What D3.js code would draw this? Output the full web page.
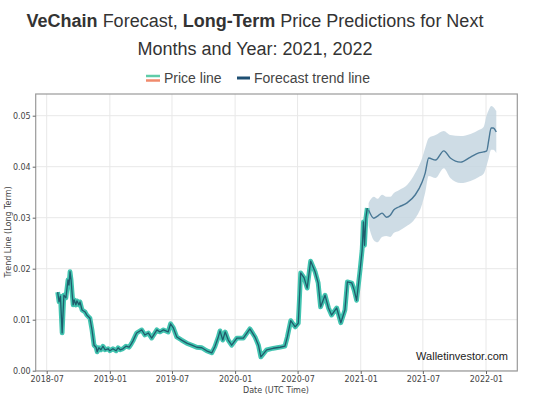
<!DOCTYPE html>
<html><head><meta charset="utf-8">
<script src="https://cdn.jsdelivr.net/npm/d3@7"></script>
<style>
html,body{margin:0;padding:0;background:#fff;}
svg{display:block;font-family:"Liberation Sans",Arial,Helvetica,sans-serif;}
</style></head>
<body><svg id="c" width="536" height="398"></svg>
<script>
const priceDates = ["2018-08-02","2018-08-06","2018-08-10","2018-08-15","2018-08-20","2018-08-26","2018-09-01","2018-09-04","2018-09-07","2018-09-10","2018-09-13","2018-09-16","2018-09-19","2018-09-24","2018-09-27","2018-10-03","2018-10-06","2018-10-12","2018-10-21","2018-10-26","2018-11-04","2018-11-10","2018-11-16","2018-11-22","2018-11-25","2018-11-30","2018-12-06","2018-12-12","2018-12-18","2018-12-27","2019-01-01","2019-01-10","2019-01-19","2019-01-25","2019-01-31","2019-02-08","2019-02-17","2019-02-26","2019-03-04","2019-03-09","2019-03-20","2019-04-04","2019-04-13","2019-04-23","2019-05-03","2019-05-18","2019-05-27","2019-06-06","2019-06-20","2019-06-27","2019-07-05","2019-07-15","2019-07-29","2019-08-13","2019-08-28","2019-09-11","2019-09-26","2019-10-10","2019-10-25","2019-11-03","2019-11-13","2019-11-18","2019-11-26","2019-12-03","2019-12-12","2019-12-22","2020-01-06","2020-01-25","2020-02-13","2020-02-28","2020-03-09","2020-03-16","2020-04-02","2020-04-21","2020-05-11","2020-05-25","2020-06-01","2020-06-11","2020-06-24","2020-07-03","2020-07-10","2020-07-20","2020-07-29","2020-08-08","2020-08-21","2020-08-30","2020-09-06","2020-09-19","2020-09-29","2020-10-08","2020-10-23","2020-11-04","2020-11-16","2020-11-23","2020-12-06","2020-12-13","2020-12-20","2020-12-30","2021-01-05","2021-01-09","2021-01-12","2021-01-16","2021-01-20"];
const priceValues = [0.0154,0.0135,0.0146,0.0074,0.0148,0.0143,0.0178,0.0168,0.0194,0.0178,0.0152,0.0129,0.0139,0.0129,0.0137,0.0129,0.0135,0.0119,0.0115,0.0109,0.0103,0.0080,0.0050,0.0046,0.0037,0.0045,0.0041,0.0048,0.0041,0.0043,0.0039,0.0043,0.0039,0.0045,0.0041,0.0043,0.0048,0.0046,0.0052,0.0058,0.0074,0.0080,0.0070,0.0074,0.0064,0.0080,0.0076,0.0080,0.0076,0.0092,0.0084,0.0066,0.0060,0.0054,0.0050,0.0046,0.0045,0.0039,0.0035,0.0047,0.0066,0.0078,0.0060,0.0076,0.0060,0.0050,0.0064,0.0064,0.0082,0.0066,0.0050,0.0027,0.0041,0.0044,0.0046,0.0048,0.0066,0.0098,0.0086,0.0093,0.0192,0.0182,0.0162,0.0215,0.0194,0.0172,0.0125,0.0148,0.0123,0.0109,0.0123,0.0094,0.0119,0.0174,0.0172,0.0158,0.0138,0.0197,0.0236,0.0292,0.0246,0.0299,0.0319];

const forecastDates = ["2021-01-24","2021-02-08","2021-02-19","2021-03-04","2021-03-17","2021-03-28","2021-04-07","2021-04-22","2021-05-16","2021-06-09","2021-06-29","2021-07-08","2021-07-18","2021-08-07","2021-08-31","2021-09-19","2021-10-19","2021-11-17","2021-12-11","2021-12-25","2022-01-03","2022-01-09","2022-01-16","2022-01-22","2022-01-31"];
const forecastValues = [0.0315,0.0299,0.0303,0.0309,0.0301,0.0305,0.0315,0.0321,0.0329,0.0345,0.0370,0.0388,0.0417,0.0413,0.0431,0.0417,0.0409,0.0419,0.0427,0.0429,0.0431,0.0452,0.0476,0.0476,0.0468];
const forecastUpper = [0.0329,0.0341,0.0337,0.0345,0.0341,0.0341,0.0348,0.0354,0.0364,0.0388,0.0417,0.0437,0.0456,0.0462,0.0470,0.0462,0.0460,0.0464,0.0472,0.0478,0.0501,0.0511,0.0519,0.0517,0.0509];
const forecastLower = [0.0284,0.0256,0.0252,0.0262,0.0264,0.0262,0.0270,0.0274,0.0284,0.0299,0.0327,0.0350,0.0382,0.0378,0.0397,0.0378,0.0368,0.0372,0.0380,0.0386,0.0403,0.0417,0.0433,0.0433,0.0427];

const xTickLabels = ["2018-07","2019-01","2019-07","2020-01","2020-07","2021-01","2021-07","2022-01"];
const yTickValues = [0.00,0.01,0.02,0.03,0.04,0.05];

const parse = d3.timeParse("%Y-%m-%d");
const parseM = d3.timeParse("%Y-%m");
const svg = d3.select("#c");

const frame = {l:35.7, r:517.3, t:94, b:371};
const x = d3.scaleTime().domain([parseM("2018-07"), parseM("2022-01")]).range([46.7, 486]);
const y = d3.scaleLinear().domain([0, 0.05]).range([370.7, 115.7]);

// Title
const title = svg.append("text").attr("x",255).attr("y",27).attr("text-anchor","middle")
  .attr("font-size",18).attr("fill","#333");
title.append("tspan").attr("font-weight","bold").text("VeChain");
title.append("tspan").text(" Forecast, ");
title.append("tspan").attr("font-weight","bold").text("Long-Term");
title.append("tspan").text(" Price Predictions for Next");
svg.append("text").attr("x",255).attr("y",55).attr("text-anchor","middle")
  .attr("font-size",18).attr("fill","#333").text("Months and Year: 2021, 2022");

// Legend
const lg = svg.append("g");
lg.append("line").attr("x1",146).attr("x2",160).attr("y1",76).attr("y2",76).attr("stroke","#5fcca8").attr("stroke-width",2.5);
lg.append("line").attr("x1",146).attr("x2",160).attr("y1",80.5).attr("y2",80.5).attr("stroke","#f08a6c").attr("stroke-width",2.5);
lg.append("text").attr("x",164).attr("y",83).attr("font-size",14).attr("fill","#444").text("Price line");
lg.append("line").attr("x1",237).attr("x2",250).attr("y1",78).attr("y2",78).attr("stroke","#1e4f72").attr("stroke-width",3);
lg.append("text").attr("x",254).attr("y",83).attr("font-size",14).attr("fill","#444").text("Forecast trend line");

// Grid
const xTicks = xTickLabels.map(parseM);
svg.append("g").selectAll("line").data(xTicks).join("line")
  .attr("x1",d=>x(d)).attr("x2",d=>x(d)).attr("y1",frame.t).attr("y2",frame.b)
  .attr("stroke","#e8e8e8").attr("stroke-width",1);
svg.append("g").selectAll("line").data(yTickValues).join("line")
  .attr("x1",frame.l).attr("x2",frame.r).attr("y1",d=>y(d)).attr("y2",d=>y(d))
  .attr("stroke","#e8e8e8").attr("stroke-width",1);

// Forecast band
const fData = forecastDates.map((d,i)=>({d:parse(d), v:forecastValues[i], u:forecastUpper[i], l:forecastLower[i]}));
svg.append("path").datum(fData)
  .attr("d", d3.area().curve(d3.curveMonotoneX).x(p=>x(p.d)).y0(p=>y(p.l)).y1(p=>y(p.u)))
  .attr("fill","#c5d6e1").attr("opacity",0.85);

// Price line
const pData = priceDates.map((d,i)=>({d:parse(d), v:priceValues[i]}));
const pl = d3.line().x(p=>x(p.d)).y(p=>y(p.v));
svg.append("path").datum(pData).attr("d",pl).attr("fill","none")
  .attr("stroke","#42c4b0").attr("stroke-width",4.8).attr("stroke-linejoin","round");
svg.append("path").datum(pData).attr("d",pl).attr("fill","none")
  .attr("stroke","#1f5c6c").attr("stroke-width",1.3).attr("stroke-linejoin","round");

// Forecast line
svg.append("path").datum(fData)
  .attr("d", d3.line().curve(d3.curveMonotoneX).x(p=>x(p.d)).y(p=>y(p.v)))
  .attr("fill","none").attr("stroke","#4a7896").attr("stroke-width",1.4);

// Frame
svg.append("rect").attr("x",frame.l).attr("y",frame.t).attr("width",frame.r-frame.l).attr("height",frame.b-frame.t)
  .attr("fill","none").attr("stroke","#9a9a9a").attr("stroke-width",1.2);

// Axes
const xAxis = d3.axisBottom(x).tickValues(xTicks).tickFormat(d3.timeFormat("%Y-%m")).tickSize(3).tickPadding(2);
const gx = svg.append("g").attr("transform",`translate(0,${frame.b})`).call(xAxis);
gx.select(".domain").remove();
gx.selectAll("line").attr("stroke","#666");
gx.selectAll("text").attr("font-size",8).attr("fill","#444").attr("font-family","'DejaVu Sans',sans-serif");

const yAxis = d3.axisLeft(y).tickValues(yTickValues).tickFormat(d3.format(".2f")).tickSize(3).tickPadding(2);
const gy = svg.append("g").attr("transform",`translate(${frame.l},0)`).call(yAxis);
gy.select(".domain").remove();
gy.selectAll("line").attr("stroke","#666");
gy.selectAll("text").attr("font-size",8).attr("fill","#444").attr("font-family","'DejaVu Sans',sans-serif");

// Axis titles
svg.append("text").attr("x",276).attr("y",393).attr("text-anchor","middle").attr("font-size",8)
  .attr("fill","#444").attr("font-family","'DejaVu Sans',sans-serif").text("Date (UTC Time)");
svg.append("text").attr("transform","translate(11,232) rotate(-90)").attr("text-anchor","middle").attr("font-size",8)
  .attr("fill","#444").attr("font-family","'DejaVu Sans',sans-serif").text("Trend Line (Long Term)");

// Watermark
svg.append("text").attr("x",508).attr("y",360).attr("text-anchor","end").attr("font-size",11)
  .attr("fill","#222").text("Walletinvestor.com");
</script></body></html>
